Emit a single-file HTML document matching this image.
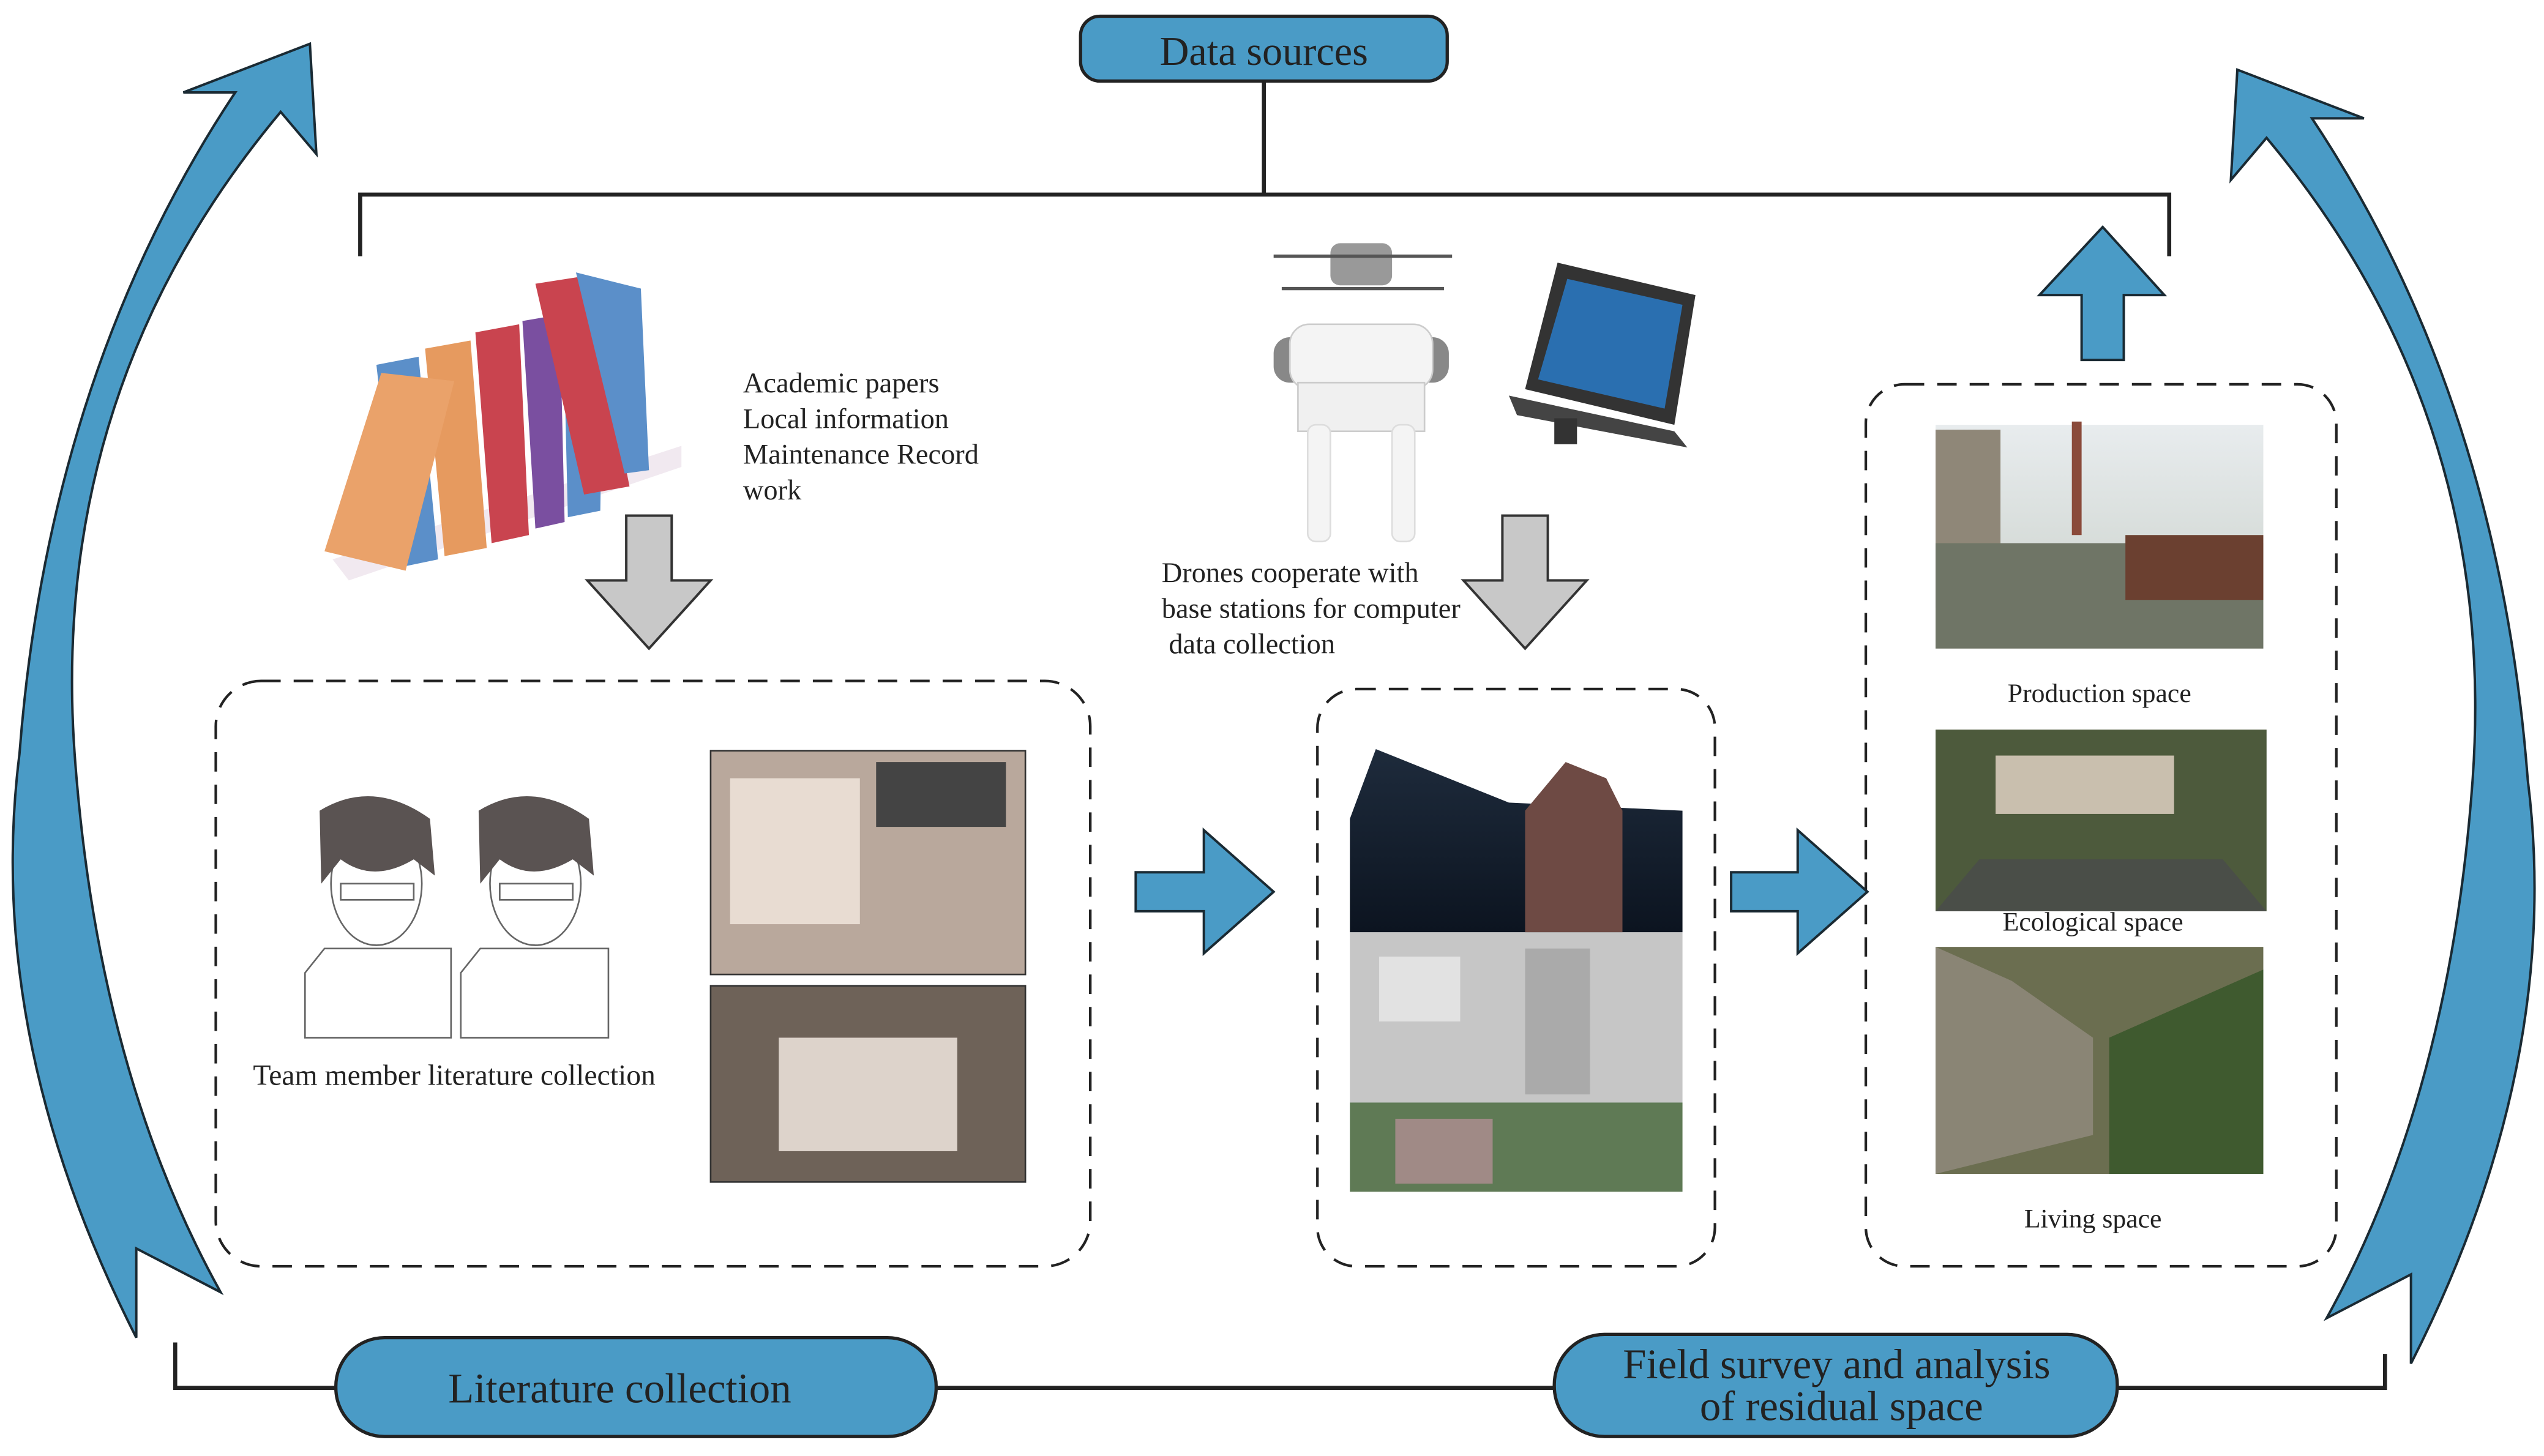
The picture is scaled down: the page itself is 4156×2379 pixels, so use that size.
<!DOCTYPE html>
<html><head><meta charset="utf-8"><style>
html,body{margin:0;padding:0;background:#fff;}
svg{display:block;}
text{font-family:"Liberation Serif",serif;fill:#222;}
</style></head><body>
<svg width="4156" height="2379" viewBox="0 0 1568 898" preserveAspectRatio="none" xmlns="http://www.w3.org/2000/svg">
<defs>
<linearGradient id="dark" x1="0" y1="0" x2="0" y2="1"><stop offset="0" stop-color="#1e2b3c"/><stop offset="1" stop-color="#0c1420"/></linearGradient>
<linearGradient id="sky" x1="0" y1="0" x2="0" y2="1"><stop offset="0" stop-color="#e8ecee"/><stop offset="1" stop-color="#c8cfc8"/></linearGradient>
</defs>
<path fill="#4a9bc6" stroke="#1a2a33" stroke-width="1.5" d="M145,57 L113,57 L191,27 L195,95 L173,69 Q30,240 46,465 Q60,660 136,797 L84,770 L84,825 Q-10,640 12,465 Q30,230 145,57 Z"/>
<g transform="translate(1570,16) scale(-1,1)">
<path fill="#4a9bc6" stroke="#1a2a33" stroke-width="1.5" d="M145,57 L113,57 L191,27 L195,95 L173,69 Q30,240 46,465 Q60,660 136,797 L84,770 L84,825 Q-10,640 12,465 Q30,230 145,57 Z"/>
</g>

<g stroke="#222" stroke-width="2.5" fill="none">
<path d="M779,50 V120 M222,158 V120 H1337 V158"/>
<path d="M108,828 V856 H1470 V835"/>
</g>
<rect x="666" y="10" width="226" height="40" rx="12" fill="#4a9bc6" stroke="#222" stroke-width="2"/>
<text x="779" y="40" font-size="25" text-anchor="middle">Data sources</text>

<rect x="207" y="825" width="370" height="61" rx="30" fill="#4a9bc6" stroke="#222" stroke-width="2"/>
<text x="382" y="865" font-size="26" text-anchor="middle">Literature collection</text>
<rect x="958" y="823" width="347" height="63" rx="31" fill="#4a9bc6" stroke="#222" stroke-width="2"/>
<text x="1132" y="850" font-size="26" text-anchor="middle">Field survey and analysis</text>
<text x="1135" y="876" font-size="26" text-anchor="middle">of residual space</text>

<g fill="none" stroke="#222" stroke-width="1.6" stroke-dasharray="12,8">
<rect x="133" y="420" width="539" height="361" rx="28"/>
<rect x="812" y="425" width="245" height="356" rx="24"/>
<rect x="1150" y="237" width="290" height="544" rx="24"/>
</g>

<g fill="#c8c8c8" stroke="#333" stroke-width="1.5">
<path d="M386,318 H414 V358 H438 L400,400 L362,358 H386 Z"/>
<path d="M926,318 H954 V358 H978 L940,400 L902,358 H926 Z"/>
</g>
<g fill="#4a9bc6" stroke="#1a2a33" stroke-width="1.5">
<path d="M700,538 H742 V512 L785,550 L742,588 V562 H700 Z"/>
<path d="M1067,538 H1108 V512 L1151,550 L1108,588 V562 H1067 Z"/>
<path d="M1283,222 V182 H1257 L1296,140 L1334,182 H1309 V222 Z"/>
</g>

<g stroke="none">
<polygon points="205,345 420,275 420,288 215,358" fill="#f1e9f0"/>
<polygon points="232,225 258,220 270,345 246,350" fill="#5b8fc9"/>
<polygon points="262,215 290,210 300,338 274,343" fill="#e69a5f"/>
<polygon points="293,205 320,200 326,330 303,335" fill="#c9444f"/>
<polygon points="322,198 345,194 348,322 330,326" fill="#7a4fa0"/>
<polygon points="347,192 372,188 370,315 350,319" fill="#5b8fc9"/>
<polygon points="330,175 362,170 388,300 360,305" fill="#c9444f"/>
<polygon points="355,168 395,178 400,290 385,292" fill="#5b8fc9"/>
<polygon points="200,340 235,230 280,235 250,352" fill="#eaa26a"/>
</g>
<text font-size="17.5"><tspan x="458" y="242">Academic papers</tspan><tspan x="458" y="264">Local information</tspan><tspan x="458" y="286">Maintenance Record</tspan><tspan x="458" y="308">work</tspan></text>

<g>
<rect x="820" y="150" width="38" height="26" rx="6" fill="#999"/>
<path d="M785,158 L895,158 M790,178 L890,178" stroke="#555" stroke-width="2"/>
<rect x="785" y="208" width="108" height="28" rx="10" fill="#888"/>
<rect x="795" y="200" width="88" height="40" rx="12" fill="#f4f4f4" stroke="#ccc"/>
<rect x="800" y="236" width="78" height="30" fill="#f0f0f0" stroke="#ccc"/>
<rect x="806" y="262" width="14" height="72" rx="5" fill="#f4f4f4" stroke="#ddd"/>
<rect x="858" y="262" width="14" height="72" rx="5" fill="#f4f4f4" stroke="#ddd"/>
<polygon points="960,162 1045,182 1032,262 940,240" fill="#333"/>
<polygon points="966,172 1037,188 1026,252 948,234" fill="#2a6fb0"/>
<polygon points="930,244 1032,266 1040,276 935,256" fill="#444"/>
<rect x="958" y="258" width="14" height="16" fill="#333"/>
</g>
<text font-size="17.5"><tspan x="716" y="359">Drones cooperate with</tspan><tspan x="716" y="381">base stations for computer</tspan><tspan x="716" y="403"> data collection</tspan></text>

<g stroke="#666" stroke-width="1" fill="#fff">
<path d="M188,640 V600 L200,585 H278 V640 Z M284,640 V600 L296,585 H375 V640 Z"/>
<ellipse cx="232" cy="545" rx="28" ry="38"/>
<ellipse cx="330" cy="545" rx="28" ry="38"/>
<path d="M197,500 Q230,480 265,505 L268,540 L255,530 Q230,545 210,530 L198,545 Z" fill="#5a5352" stroke="none"/>
<path d="M295,500 Q328,480 363,505 L366,540 L353,530 Q328,545 308,530 L296,545 Z" fill="#5a5352" stroke="none"/>
<rect x="210" y="545" width="45" height="10"/><rect x="308" y="545" width="45" height="10"/>
</g>
<text x="280" y="669" font-size="18" text-anchor="middle">Team member literature collection</text>

<rect x="438" y="463" width="194" height="138" fill="#b9a89c" stroke="#333"/>
<rect x="450" y="480" width="80" height="90" fill="#e8dcd2"/>
<rect x="540" y="470" width="80" height="40" fill="#444"/>
<rect x="438" y="608" width="194" height="121" fill="#6e6258" stroke="#333"/>
<rect x="480" y="640" width="110" height="70" fill="#ddd3cb"/>

<polygon points="848,462 930,495 1037,500 1037,575 832,575 832,505" fill="url(#dark)"/>
<polygon points="940,500 965,470 990,480 1000,500 1000,575 940,575" fill="#6e4a44"/>
<rect x="832" y="575" width="205" height="105" fill="#c6c6c6"/>
<rect x="850" y="590" width="50" height="40" fill="#e2e2e2"/>
<rect x="940" y="585" width="40" height="90" fill="#aaa"/>
<rect x="832" y="680" width="205" height="55" fill="#5f7a55"/>
<rect x="860" y="690" width="60" height="40" fill="#a08a86"/>

<rect x="1193" y="262" width="202" height="138" fill="url(#sky)"/>
<rect x="1193" y="265" width="40" height="110" fill="#8f8778"/>
<rect x="1277" y="260" width="6" height="70" fill="#8a4a3a"/>
<rect x="1193" y="335" width="202" height="65" fill="#6f7566"/>
<rect x="1310" y="330" width="85" height="40" fill="#6b4030"/>
<text x="1294" y="433" font-size="16.5" text-anchor="middle" fill="#444">Production space</text>
<rect x="1193" y="450" width="204" height="112" fill="#4d5a3c"/>
<rect x="1230" y="466" width="110" height="36" fill="#c9bfae"/>
<polygon points="1220,530 1370,530 1397,562 1193,562" fill="#4a4e48"/>
<text x="1290" y="574" font-size="16.5" text-anchor="middle" fill="#444">Ecological space</text>
<rect x="1193" y="584" width="202" height="140" fill="#6b6e50"/>
<polygon points="1193,584 1240,605 1290,640 1290,700 1193,724" fill="#8a8575"/>
<polygon points="1300,640 1395,598 1395,724 1300,724" fill="#3f5a2f"/>
<text x="1290" y="757" font-size="16.5" text-anchor="middle" fill="#444">Living space</text>
</svg>
</body></html>
